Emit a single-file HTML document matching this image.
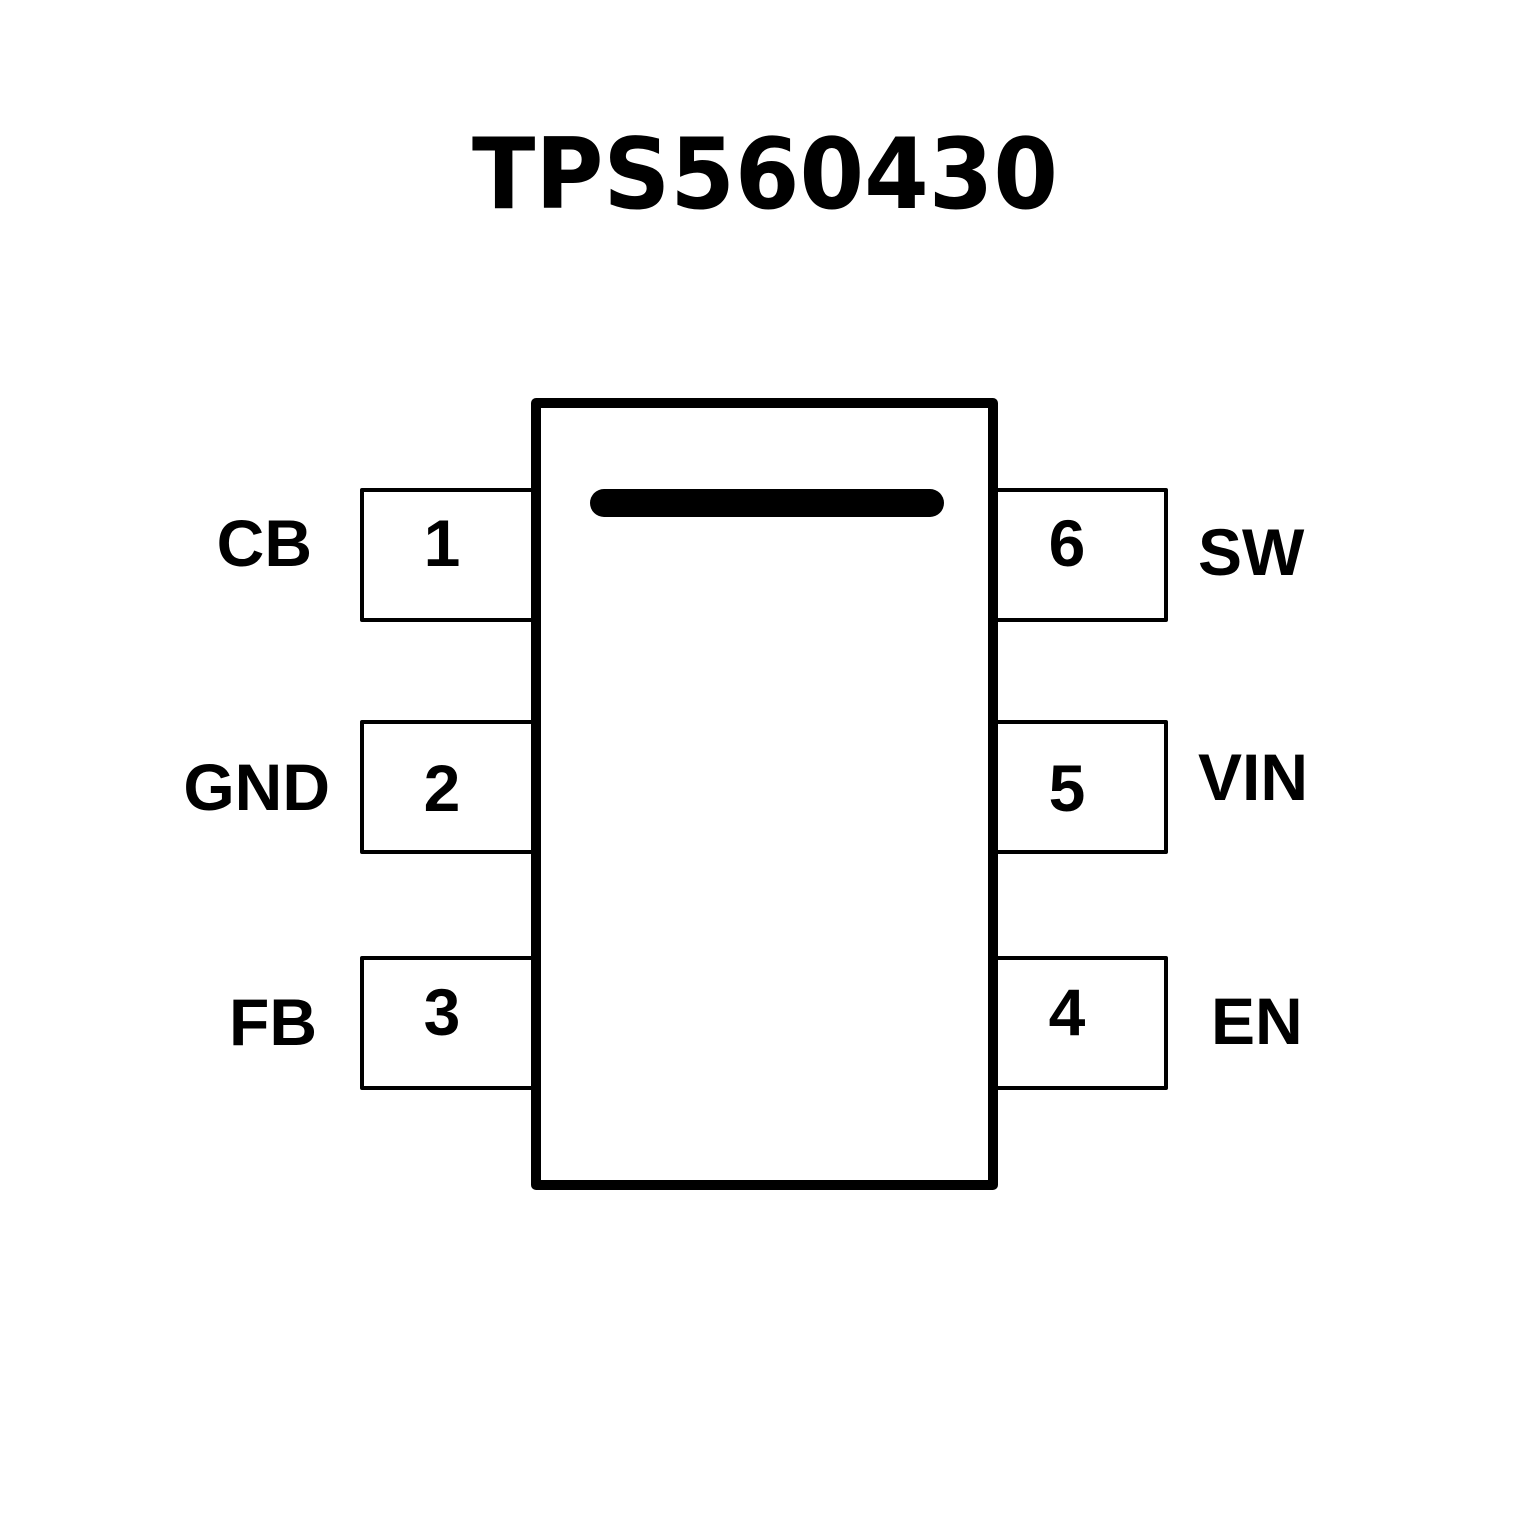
<!DOCTYPE html>
<html><head><style>html,body{margin:0;padding:0;background:#fff}</style></head><body>
<svg width="1535" height="1535" viewBox="0 0 1535 1535" xmlns="http://www.w3.org/2000/svg">
<rect width="1535" height="1535" fill="#fff"/>
<text x="765" y="208" text-anchor="middle" font-family="DejaVu Sans, sans-serif" font-weight="bold" font-size="98" textLength="586" lengthAdjust="spacingAndGlyphs">TPS560430</text>
<g fill="none" stroke="#000" stroke-width="4" stroke-linejoin="round">
<path d="M536 490 H362 V620 H536"/>
<path d="M536 722 H362 V852 H536"/>
<path d="M536 958 H362 V1088 H536"/>
<path d="M992 490 H1166 V620 H992"/>
<path d="M992 722 H1166 V852 H992"/>
<path d="M992 958 H1166 V1088 H992"/>
</g>
<rect x="536" y="403" width="457" height="782" fill="#fff" stroke="#000" stroke-width="10" stroke-linejoin="round"/>
<line x1="604" y1="503" x2="930" y2="503" stroke="#000" stroke-width="28" stroke-linecap="round"/>
<g font-family="Liberation Sans, Arial, sans-serif" font-weight="bold" font-size="66" fill="#000">
<text x="442" y="566" text-anchor="middle">1</text>
<text x="442" y="811" text-anchor="middle">2</text>
<text x="442" y="1035" text-anchor="middle">3</text>
<text x="1067" y="566" text-anchor="middle">6</text>
<text x="1067" y="811" text-anchor="middle">5</text>
<text x="1067" y="1035" text-anchor="middle">4</text>
<text x="312" y="566" text-anchor="end">CB</text>
<text x="330" y="810" text-anchor="end">GND</text>
<text x="317" y="1045" text-anchor="end">FB</text>
<text x="1198" y="575">SW</text>
<text x="1198" y="800">VIN</text>
<text x="1211" y="1044">EN</text>
</g>
</svg>
</body></html>
